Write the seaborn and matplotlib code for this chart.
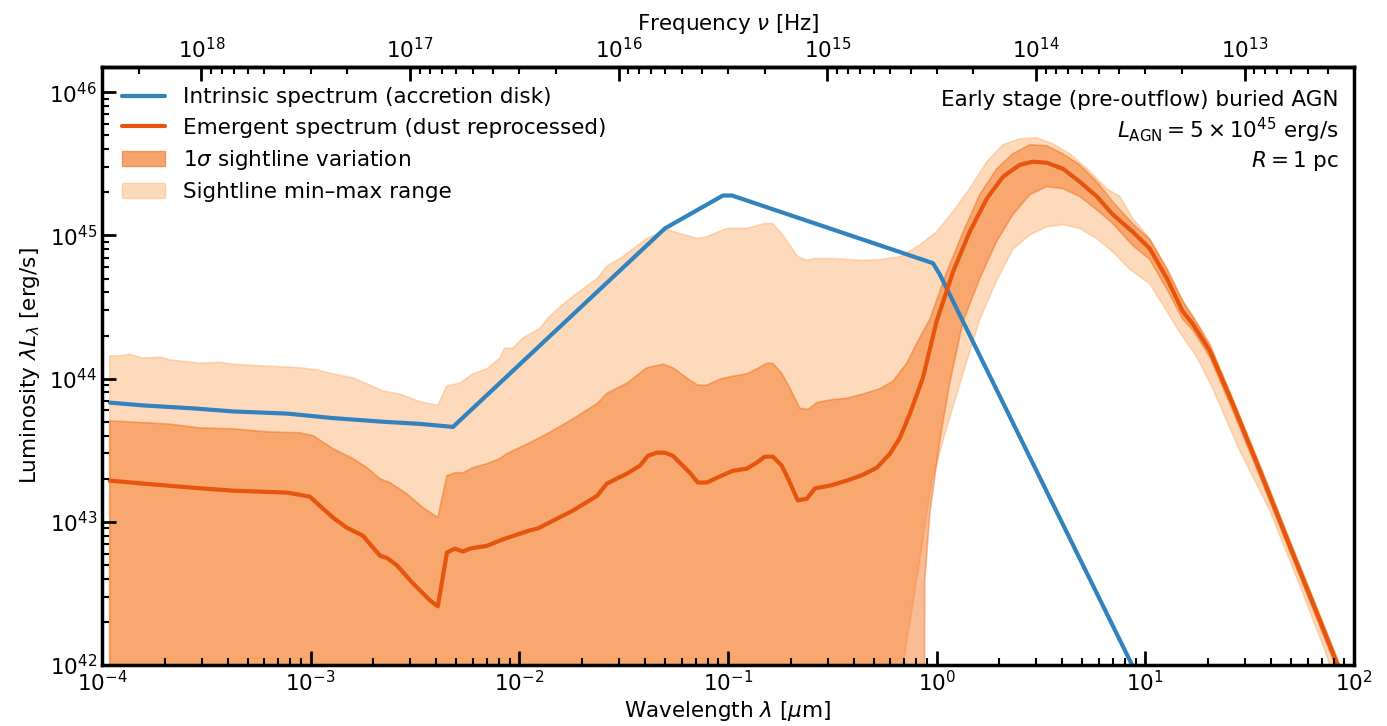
import numpy as np
import matplotlib
matplotlib.use("Agg")
import matplotlib.pyplot as plt
from matplotlib.patches import Patch
from matplotlib.lines import Line2D
import seaborn as sns

# values: wavelength [um], luminosity lambda*L_lambda [erg/s]

# intrinsic accretion disk spectrum
lam_int = [1.09e-4, 1.57e-4, 2.73e-4, 4.25e-4, 7.7e-4, 1.28e-3, 2.22e-3, 3.34e-3, 4.81e-3,
           4.99e-2, 9.46e-2, 0.1045, 0.96, 1.035, 10.0]
L_int = [6.8e43, 6.5e43, 6.2e43, 5.9e43, 5.7e43, 5.3e43, 5.0e43, 4.83e43, 4.6e43,
         1.12e45, 1.90e45, 1.90e45, 6.4e44, 5.35e44, 6.5e41]

# emergent (median over sightlines)
lam_em = [1.09e-4, 1.57e-4, 2.73e-4, 4.25e-4, 7.7e-4, 9.9e-4, 1.28e-3, 1.49e-3, 1.78e-3, 2.15e-3,
          2.32e-3, 2.59e-3, 3.09e-3, 3.73e-3, 4.07e-3, 4.50e-3, 4.91e-3, 5.37e-3, 5.8e-3, 7.0e-3,
          8.07e-3, 8.7e-3, 1.12e-2, 1.23e-2, 1.81e-2, 2.36e-2, 2.63e-2, 3.28e-2, 3.79e-2, 4.13e-2,
          4.56e-2, 4.99e-2, 5.45e-2, 6.57e-2, 7.17e-2, 7.92e-2, 8.85e-2, 0.1055, 0.123, 0.1375,
          0.150, 0.164, 0.181, 0.198, 0.216, 0.239, 0.261, 0.308, 0.371, 0.443,
          0.517, 0.597, 0.667, 0.745, 0.859, 1.00, 1.20, 1.44, 1.74, 2.08,
          2.50, 2.89, 3.37, 4.03, 4.85, 5.86, 6.98, 8.7, 10.5, 12.7,
          15.1, 16.9, 20.4, 26.2, 35.4, 49.2, 68.5, 90.3]
L_em = [1.94e43, 1.85e43, 1.73e43, 1.65e43, 1.60e43, 1.50e43, 1.07e43, 9.1e42, 8.0e42, 5.8e42,
        5.6e42, 4.97e42, 3.72e42, 2.83e42, 2.57e42, 6.1e42, 6.5e42, 6.2e42, 6.5e42, 6.8e42,
        7.4e42, 7.7e42, 8.7e42, 9.0e42, 1.20e43, 1.52e43, 1.85e43, 2.17e43, 2.47e43, 2.89e43,
        3.04e43, 3.04e43, 2.89e43, 2.20e43, 1.88e43, 1.88e43, 2.03e43, 2.27e43, 2.35e43, 2.59e43,
        2.85e43, 2.85e43, 2.47e43, 1.88e43, 1.41e43, 1.45e43, 1.71e43, 1.79e43, 1.94e43, 2.13e43,
        2.39e43, 2.99e43, 3.86e43, 5.7e43, 1.01e44, 2.52e44, 5.6e44, 1.06e45, 1.81e45, 2.57e45,
        3.11e45, 3.27e45, 3.22e45, 2.92e45, 2.37e45, 1.87e45, 1.40e45, 1.06e45, 8.1e44, 5.0e44,
        2.95e44, 2.40e44, 1.56e44, 6.7e43, 2.28e43, 6.8e42, 2.06e42, 7.5e41]

# 1 sigma sightline band
lam_sig_hi = [1.09e-4, 2.05e-4, 2.95e-4, 4.25e-4, 6.18e-4, 8.9e-4, 1.03e-3, 1.28e-3, 1.60e-3, 1.86e-3,
              2.15e-3, 2.40e-3, 2.89e-3, 3.45e-3, 4.07e-3, 4.50e-3, 4.91e-3, 5.37e-3, 6.0e-3, 7.0e-3,
              8.07e-3, 8.7e-3, 1.12e-2, 1.36e-2, 1.81e-2, 2.36e-2, 2.63e-2, 3.28e-2, 4.08e-2, 4.88e-2,
              5.45e-2, 6.35e-2, 7.17e-2, 7.92e-2, 9.14e-2, 0.1055, 0.123, 0.1375, 0.153, 0.164,
              0.181, 0.198, 0.221, 0.242, 0.267, 0.308, 0.371, 0.443, 0.535, 0.617,
              0.719, 0.813, 0.927, 1.12, 1.34, 1.61, 1.94, 2.32, 2.80, 3.37,
              4.03, 4.85, 5.86, 6.98, 8.7, 10.5, 12.7, 15.1, 16.9, 20.4,
              26.2, 35.4, 49.2, 68.5, 90.3]
L_sig_hi = [5.07e43, 4.83e43, 4.53e43, 4.46e43, 4.25e43, 4.18e43, 3.99e43, 3.24e43, 2.76e43, 2.39e43,
            2.00e43, 1.88e43, 1.57e43, 1.26e43, 1.07e43, 2.10e43, 2.20e43, 2.20e43, 2.39e43, 2.55e43,
            2.76e43, 2.99e43, 3.56e43, 4.12e43, 5.24e43, 6.7e43, 7.9e43, 9.3e43, 1.19e44, 1.26e44,
            1.19e44, 1.01e44, 9.0e43, 9.0e43, 9.9e43, 1.04e44, 1.08e44, 1.17e44, 1.28e44, 1.28e44,
            1.09e44, 8.6e43, 6.2e43, 6.1e43, 6.8e43, 7.1e43, 7.3e43, 7.8e43, 8.5e43, 9.6e43,
            1.28e44, 1.83e44, 2.6e44, 5.6e44, 1.06e45, 1.93e45, 2.92e45, 3.72e45, 4.30e45, 4.23e45,
            3.72e45, 3.11e45, 2.37e45, 1.72e45, 1.21e45, 9.4e44, 5.8e44, 3.47e44, 2.73e44, 1.74e44,
            7.2e43, 2.47e43, 7.4e42, 2.23e42, 8.1e41]
lam_sig_lo = [1.09e-4, 0.869, 0.877, 0.927, 1.035, 1.16, 1.34, 1.61, 1.94, 2.32,
              2.80, 3.37, 4.03, 4.85, 5.86, 6.98, 8.7, 10.5, 12.7, 15.1,
              16.9, 20.4, 26.2, 35.4, 49.2, 68.5, 90.3]
L_sig_lo = [1e40, 1e40, 3.9e42, 1.14e43, 3.68e43, 9.6e43, 2.52e44, 5.0e44, 9.1e44, 1.40e45,
            1.93e45, 2.19e45, 2.12e45, 1.87e45, 1.51e45, 1.21e45, 8.5e44, 6.8e44, 4.2e44, 2.6e44,
            2.18e44, 1.41e44, 6.0e43, 2.07e43, 6.2e42, 1.87e42, 6.8e41]

# min-max sightline range
lam_mm_hi = [1.09e-4, 1.22e-4, 1.36e-4, 1.57e-4, 1.90e-4, 2.12e-4, 2.95e-4, 3.67e-4, 4.25e-4, 5.12e-4,
             8.9e-4, 1.07e-3, 1.28e-3, 1.60e-3, 1.86e-3, 2.22e-3, 2.68e-3, 3.34e-3, 4.07e-3, 4.50e-3,
             5.19e-3, 6.0e-3, 7.0e-3, 8.07e-3, 8.5e-3, 9.3e-3, 1.04e-2, 1.26e-2, 1.37e-2, 1.62e-2,
             1.95e-2, 2.36e-2, 2.63e-2, 3.13e-2, 4.08e-2, 5.09e-2, 5.89e-2, 7.18e-2, 7.93e-2, 9.9e-2,
             0.123, 0.150, 0.164, 0.183, 0.216, 0.239, 0.261, 0.318, 0.443, 0.552,
             0.667, 0.769, 0.832, 1.00, 1.20, 1.44, 1.74, 2.08, 2.50, 3.02,
             3.60, 4.35, 5.25, 6.53, 7.55, 8.7, 10.5, 12.7, 15.8, 18.2,
             21.0, 26.2, 35.4, 49.2, 68.5, 90.3]
L_mm_hi = [1.44e44, 1.44e44, 1.48e44, 1.39e44, 1.41e44, 1.35e44, 1.28e44, 1.30e44, 1.26e44, 1.24e44,
           1.19e44, 1.15e44, 1.08e44, 1.01e44, 9.2e43, 8.2e43, 7.8e43, 6.9e43, 6.5e43, 8.9e43,
           9.3e43, 1.08e44, 1.17e44, 1.39e44, 1.63e44, 1.63e44, 1.92e44, 2.25e44, 2.64e44, 3.30e44,
           4.07e44, 5.0e44, 6.1e44, 7.1e44, 9.5e44, 1.10e45, 1.03e45, 9.5e44, 9.8e44, 1.12e45,
           1.12e45, 1.21e45, 1.21e45, 1.01e45, 7.1e44, 6.7e44, 6.9e44, 6.9e44, 6.7e44, 6.8e44,
           7.1e44, 8.0e44, 8.6e44, 1.06e45, 1.47e45, 2.12e45, 3.27e45, 4.30e45, 4.72e45, 4.80e45,
           4.36e45, 3.72e45, 2.92e45, 2.12e45, 1.87e45, 1.31e45, 9.5e44, 5.9e44, 3.10e44, 2.25e44,
           1.53e44, 7.3e43, 2.5e43, 7.5e42, 2.26e42, 8.2e41]
lam_mm_lo = [1.09e-4, 0.60, 0.689, 0.787, 0.948, 1.12, 1.40, 1.61, 1.94, 2.32,
             2.80, 3.37, 4.03, 4.85, 5.86, 6.98, 8.43, 10.5, 12.1, 14.6,
             17.7, 21.0, 28.4, 39.5, 55.0, 72.5, 83.6]
L_mm_lo = [1e40, 1e40, 1e42, 3.3e42, 1.94e43, 4.6e43, 1.35e44, 2.6e44, 4.85e44, 8.0e44,
           1.01e45, 1.15e45, 1.19e45, 1.12e45, 9.5e44, 7.7e44, 5.8e44, 4.6e44, 3.30e44, 2.11e44,
           1.41e44, 8.6e43, 3.13e43, 1.20e43, 3.6e42, 1.27e42, 6.7e41]

c_um = 2.998e14  # speed of light in um/s

blue = "#3182bd"
orange = "#e6550d"
c_mm = "#fdae6b"
c_sig = "#f16913"
fs = 15.5

sns.set_theme(style="ticks")
plt.rcParams['font.family'] = ['DejaVu Sans']
plt.rcParams['mathtext.fontset'] = 'dejavusans'
for k in ['text.color', 'axes.labelcolor', 'xtick.color', 'ytick.color', 'axes.edgecolor']:
    plt.rcParams[k] = 'black'

fig = plt.figure(figsize=(13.87, 7.26), dpi=100)
ax = fig.add_axes([0.0735, 0.084, 0.9027, 0.8237])
ax.set_axisbelow(False)

# bands
ax.fill(np.r_[lam_mm_hi, lam_mm_lo[::-1]], np.r_[L_mm_hi, L_mm_lo[::-1]],
        facecolor=c_mm, edgecolor=c_mm, alpha=0.45, lw=1.2, zorder=1)
ax.fill(np.r_[lam_sig_hi, lam_sig_lo[::-1]], np.r_[L_sig_hi, L_sig_lo[::-1]],
        facecolor=c_sig, edgecolor=c_sig, alpha=0.45, lw=1.2, zorder=1.5)

# spectra
sns.lineplot(x=lam_int, y=L_int, ax=ax, color=blue, lw=3, sort=False, zorder=2)
sns.lineplot(x=lam_em, y=L_em, ax=ax, color=orange, lw=3, sort=False, zorder=2.2)

ax.set_xscale("log")
ax.set_yscale("log")
ax.set_xlim(1e-4, 1e2)
ax.set_ylim(1e42, 1.5e46)

ax.set_xlabel(r"Wavelength $\lambda$ [$\mu$m]", fontsize=fs, labelpad=3)
ax.set_ylabel(r"Luminosity $\lambda L_\lambda$ [erg/s]", fontsize=fs, labelpad=5)

secax = ax.secondary_xaxis("top", functions=(lambda x: c_um / np.maximum(x, 1e-300),
                                             lambda x: c_um / np.maximum(x, 1e-300)))
secax.set_xlabel(r"Frequency $\nu$ [Hz]", fontsize=fs, labelpad=5)

for a in (ax, secax):
    a.tick_params(which="major", direction="in", length=10, width=2, labelsize=fs, color="black")
    a.tick_params(which="minor", direction="in", length=5, width=1.5, color="black")
ax.tick_params(which="both", top=False, right=False)

for s in ax.spines.values():
    s.set_linewidth(2.5)
    s.set_color("black")
secax.spines["top"].set_linewidth(2.5)

handles = [Line2D([], [], color=blue, lw=3),
           Line2D([], [], color=orange, lw=3),
           Patch(facecolor=c_sig, edgecolor=c_sig, alpha=0.6),
           Patch(facecolor=c_mm, edgecolor=c_mm, alpha=0.45)]
labels = ["Intrinsic spectrum (accretion disk)",
          "Emergent spectrum (dust reprocessed)",
          r"1$\sigma$ sightline variation",
          "Sightline min\u2013max range"]
ax.legend(handles, labels, loc="upper left", frameon=False, fontsize=fs,
          labelspacing=0.48, borderaxespad=0.55)

ax.text(0.988, 0.962,
        "Early stage (pre-outflow) buried AGN\n"
        r"$L_{\rm AGN} = 5 \times 10^{45}$ erg/s" "\n"
        r"$R = 1$ pc",
        transform=ax.transAxes, ha="right", va="top", fontsize=fs, linespacing=1.25)

fig.savefig("out.png", dpi=100)
